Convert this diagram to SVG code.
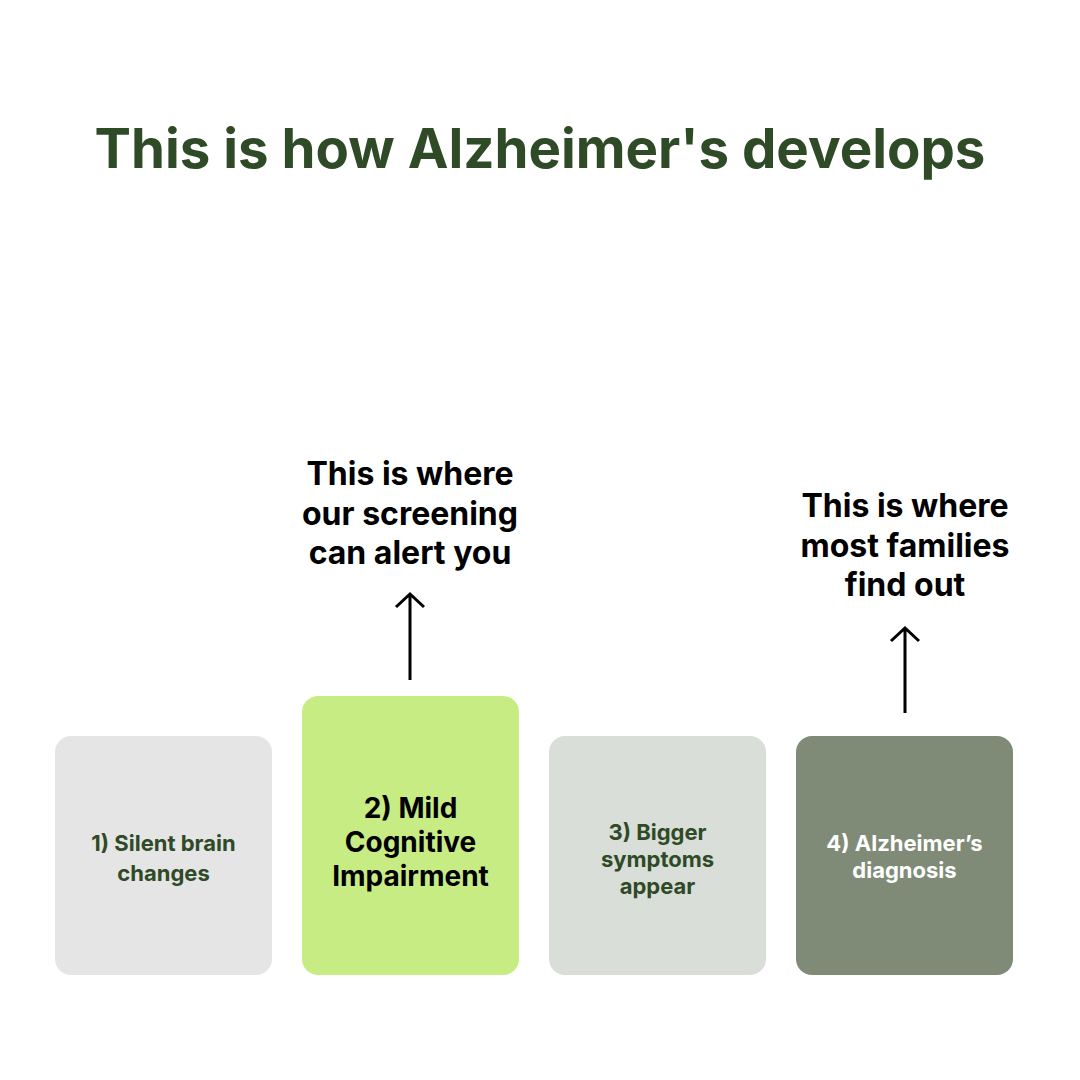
<svg xmlns="http://www.w3.org/2000/svg" width="1080" height="1080" viewBox="0 0 1080 1080">
<style>
text{font-family:Inter,"Noto Sans","Liberation Sans",sans-serif;font-weight:700;text-anchor:middle}
.title{font-size:54.6px;fill:#2F4A26}
.call{font-size:32px;fill:#000}
.s{font-size:22px;fill:#2F4A26}
.big{font-size:28px;fill:#000}
.w{font-size:22px;fill:#fff}
.arr{stroke:#000;stroke-width:3;fill:none}
</style>
<rect width="1080" height="1080" fill="#fff"/>
<text class="title" x="540" y="168">This is how Alzheimer's develops</text>
<g id="stage1"><rect x="55" y="736" width="217" height="239" rx="16" fill="#E5E5E5"/>
<text class="s" x="163.5" y="851">1) Silent brain</text><text class="s" x="163.5" y="881">changes</text></g>
<g id="stage2"><rect x="302" y="696" width="217" height="279" rx="16" fill="#C7EC83"/>
<text class="big" x="410.5" y="818">2) Mild</text><text class="big" x="410.5" y="852">Cognitive</text><text class="big" x="410.5" y="886">Impairment</text></g>
<g id="stage3"><rect x="549" y="736" width="217" height="239" rx="16" fill="#D9DED8"/>
<text class="s" x="657.5" y="840">3) Bigger</text><text class="s" x="657.5" y="867">symptoms</text><text class="s" x="657.5" y="894">appear</text></g>
<g id="stage4"><rect x="796" y="736" width="217" height="239" rx="16" fill="#7F8B76"/>
<text class="w" x="904.5" y="851">4) Alzheimer’s</text><text class="w" x="904.5" y="878">diagnosis</text></g>
<g id="note1"><text class="call" x="410" y="485">This is where</text><text class="call" x="410" y="525">our screening</text><text class="call" x="410" y="564">can alert you</text></g>
<g id="note2"><text class="call" x="905" y="517">This is where</text><text class="call" x="905" y="557">most families</text><text class="call" x="905" y="596">find out</text></g>
<g id="connectors">
<path class="arr" d="M410 680V594M396 607L410 594L424 607"/>
<path class="arr" d="M905 713V628M891 641L905 628L919 641"/>
</g>
</svg>
